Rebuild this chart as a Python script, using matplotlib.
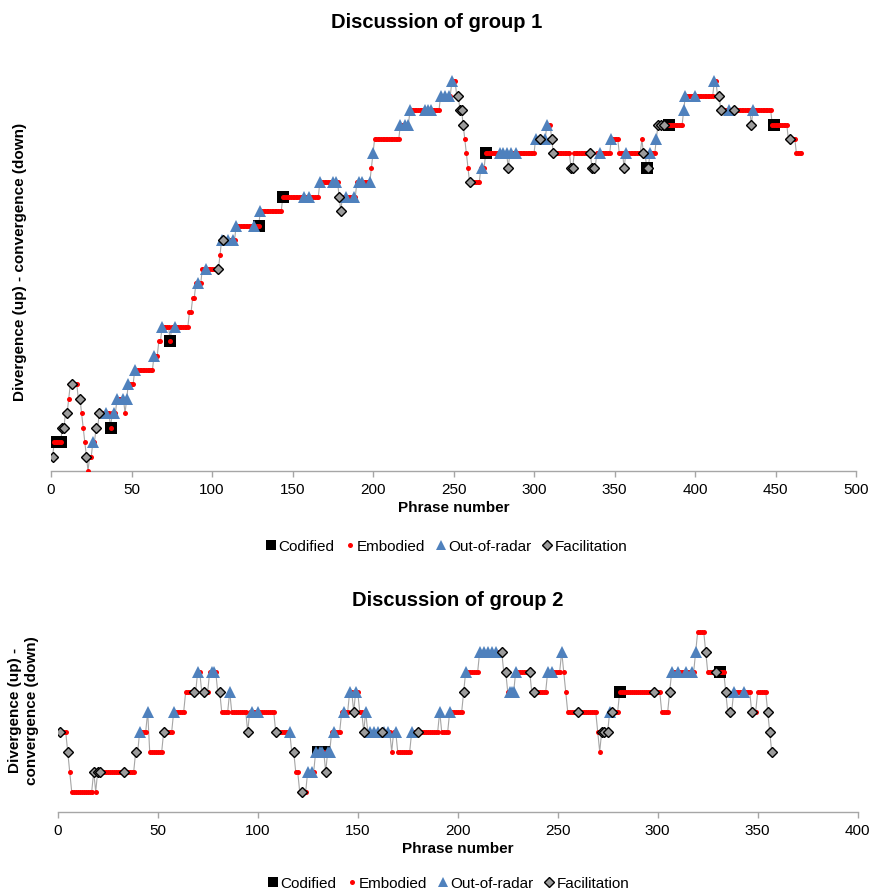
import numpy as np
import matplotlib
matplotlib.use('Agg')
import matplotlib.pyplot as plt
from matplotlib.lines import Line2D

plt.rcParams['font.family'] = ['Liberation Sans', 'DejaVu Sans']

# ------------------------------------------------------------
#  Group 1: level per phrase, stored as runs (level, length),
#  first run starts at phrase 1
# ------------------------------------------------------------
g1_run_level = [1, 2, 3, 4, 5, 6, 5, 4, 3, 2, 1, 0, 1, 2, 3, 4, 3, 4, 5, 4,
                5, 6, 7, 8, 9, 10, 9, 10, 11, 12, 13, 14, 15, 16, 17, 18, 19, 20, 19, 18,
                19, 20, 21, 22, 23, 24, 25, 26, 27, 26, 25, 24, 23, 22, 21, 20, 21, 22, 21, 22,
                23, 24, 23, 22, 21, 22, 21, 22, 23, 22, 21, 22, 23, 22, 21, 22, 23, 24, 25, 26,
                27, 26, 25, 24, 25, 24, 23, 22]
g1_run_len = [1, 5, 2, 2, 1, 5, 2, 1, 1, 1, 1, 1, 2, 2, 2, 7, 1, 3, 5, 1,
              1, 4, 12, 3, 2, 5, 1, 11, 2, 2, 4, 11, 1, 9, 15, 14, 23, 12, 1, 1,
              9, 9, 1, 1, 16, 6, 19, 7, 3, 2, 2, 1, 1, 1, 1, 7, 3, 14, 1, 16,
              7, 3, 1, 11, 2, 11, 3, 9, 5, 3, 1, 10, 1, 2, 2, 4, 1, 16, 1, 18,
              2, 2, 19, 1, 12, 10, 5, 4]

g1_codified = [2, 3, 4, 6, 37, 74, 129, 144, 270, 370, 384, 449]
g1_outradar = [26, 34, 39, 41, 45, 47, 48, 52, 64, 69, 77, 91, 96, 106, 110, 113,
               115, 126, 130, 157, 160, 167, 175, 177, 183, 188, 191, 193, 198, 200,
               217, 220, 222, 223, 232, 234, 236, 242, 245, 247, 249, 268, 279, 281,
               283, 286, 289, 301, 307, 308, 341, 348, 357, 372, 376, 393, 394, 400,
               412, 421, 436]
g1_facil = [1, 7, 8, 10, 13, 18, 22, 28, 30, 104, 107, 179, 180, 253, 254, 255,
            256, 260, 284, 304, 311, 312, 323, 324, 335, 336, 337, 356, 368, 371,
            377, 379, 381, 415, 416, 424, 435, 459]

# ------------------------------------------------------------
#  Group 2
# ------------------------------------------------------------
g2_run_level = [4, 3, 2, 1, 2, 1, 2, 3, 4, 5, 3, 4, 5, 6, 7, 6, 7, 6, 5, 6,
                5, 4, 5, 4, 3, 2, 1, 2, 3, 2, 3, 4, 5, 6, 5, 6, 5, 4, 5, 4,
                3, 4, 3, 4, 5, 4, 5, 6, 7, 8, 7, 6, 7, 6, 7, 8, 7, 6, 5, 4,
                3, 4, 5, 6, 5, 6, 7, 8, 9, 8, 7, 6, 5, 6, 5, 6, 5, 4, 3]
g2_run_len = [4, 1, 1, 11, 1, 1, 19, 2, 4, 1, 7, 5, 6, 6, 2, 4, 4, 2, 4, 1,
              8, 1, 13, 8, 2, 2, 4, 4, 5, 1, 2, 5, 4, 2, 1, 2, 2, 1, 1, 12,
              1, 2, 7, 14, 1, 4, 7, 1, 7, 12, 2, 4, 8, 8, 7, 1, 1, 1, 15, 1,
              1, 4, 5, 21, 4, 1, 12, 1, 4, 1, 9, 1, 3, 9, 3, 5, 1, 1, 1]

g2_codified = [130, 133, 281, 331]
g2_outradar = [41, 45, 58, 70, 77, 78, 86, 97, 100, 116, 125, 127, 129, 131, 132,
               135, 136, 138, 143, 146, 149, 154, 156, 158, 160, 163, 165, 169,
               177, 191, 196, 204, 211, 213, 215, 217, 219, 226, 227, 228, 229,
               245, 247, 252, 276, 307, 310, 314, 317, 319, 338, 343]
g2_facil = [1, 5, 18, 20, 21, 33, 39, 53, 68, 73, 81, 95, 109, 118, 122, 134, 148,
            153, 162, 180, 203, 222, 224, 236, 238, 260, 272, 273, 275, 277, 298,
            306, 324, 329, 334, 336, 347, 355, 356, 357]

LINE_COL = '#A6A6A6'
BLUE = '#4F81BD'
RED = '#FF0000'
DIAM = '#9C9C9C'


def draw_group(ax, run_level, run_len, codified, outradar, facil, xmax, ytop):
    levels = np.repeat(run_level, run_len)
    phrase = np.arange(1, len(levels) + 1)

    ax.plot(phrase, levels, color=LINE_COL, lw=0.8, zorder=1)

    cod = np.array(codified)
    out = np.array(outradar)
    fac = np.array(facil)
    emb = np.setdiff1d(phrase, np.concatenate([out, fac]))

    ax.plot(cod, levels[cod - 1], 's', color='black', ms=8.5, mew=0, zorder=2)
    ax.plot(emb, levels[emb - 1], 'o', color=RED, ms=3.6, mew=0, zorder=3)
    ax.plot(out, levels[out - 1], '^', color=BLUE, ms=8, mew=0, zorder=4)
    ax.plot(fac, levels[fac - 1], 'D', mfc=DIAM, mec='black', ms=5.6, mew=1.0, zorder=5)

    ax.set_xlim(0, xmax)
    ax.set_ylim(0, ytop)
    ax.set_xticks(np.arange(0, xmax + 1, 50))
    ax.set_yticks([])
    for s in ['top', 'right', 'left']:
        ax.spines[s].set_visible(False)
    ax.spines['bottom'].set_color(LINE_COL)
    ax.spines['bottom'].set_linewidth(1.0)
    ax.tick_params(axis='x', direction='out', length=4, width=1.0,
                   color=LINE_COL, labelsize=11, pad=4)
    ax.set_xlabel('Phrase number', fontsize=11, fontweight='bold', labelpad=3)


def add_legend(ax, x, y):
    handles = [
        Line2D([], [], ls='none', marker='s', color='black', ms=7.5, mew=0),
        Line2D([], [], ls='none', marker='o', color=RED, ms=3.6, mew=0),
        Line2D([], [], ls='none', marker='^', color=BLUE, ms=7.5, mew=0),
        Line2D([], [], ls='none', marker='D', mfc=DIAM, mec='black', ms=5.2, mew=1.0),
    ]
    labels = ['Codified', 'Embodied', 'Out-of-radar', 'Facilitation']
    ax.legend(handles, labels, loc='center', bbox_to_anchor=(x, y), ncol=4,
              frameon=False, fontsize=11, handlelength=0.8, handletextpad=0.1,
              columnspacing=0.6, borderaxespad=0)


fig = plt.figure(figsize=(8.74, 8.95), dpi=100)

# ------ group 1 ------
ax1 = fig.add_axes([51 / 874, 1 - 472 / 895, 805 / 874, 433 / 895])
draw_group(ax1, g1_run_level, g1_run_len, g1_codified, g1_outradar, g1_facil, 500, 30)
ax1.set_title('Discussion of group 1', fontsize=14.5, fontweight='bold',
              x=(437 - 51) / 805, pad=8)
ax1.set_ylabel('Divergence (up) - convergence (down)', fontsize=11,
               fontweight='bold')
ax1.yaxis.set_label_coords(-24 / 805, (472 - 262) / 433)
add_legend(ax1, (446 - 51) / 805, (472 - 547) / 433)

# ------ group 2 ------
ax2 = fig.add_axes([57.7 / 874, 1 - 812.7 / 895, 800 / 874, 192.7 / 895])
draw_group(ax2, g2_run_level, g2_run_len, g2_codified, g2_outradar, g2_facil, 400, 9.63)
ax2.set_title('Discussion of group 2', fontsize=14.5, fontweight='bold', pad=10)
ax2.set_ylabel('Divergence (up) -\nconvergence (down)', fontsize=11,
               fontweight='bold')
ax2.yaxis.set_label_coords(-19 / 800, 0.53)
add_legend(ax2, (448 - 57.7) / 800, (812.7 - 884) / 192.7)

fig.savefig('out.png', dpi=100)
